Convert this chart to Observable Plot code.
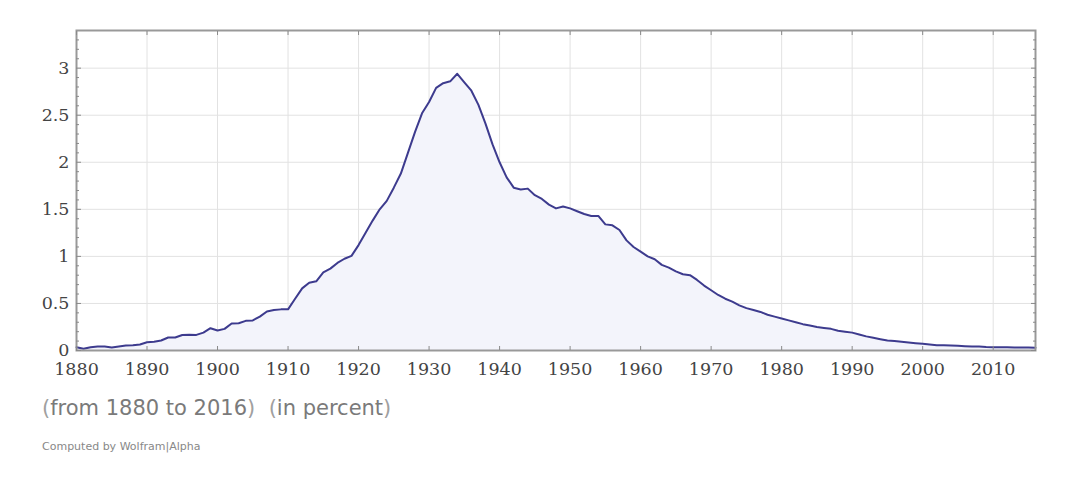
<!DOCTYPE html>
<html><head><meta charset="utf-8">
<script src="https://cdn.jsdelivr.net/npm/d3@7"></script>
<script src="https://cdn.jsdelivr.net/npm/@observablehq/plot@0.6"></script>
<style>
body{margin:0;background:#fff;}
#sub{font-family:"DejaVu Sans";font-size:21px;color:#7a7a7a;margin:6px 0 0 42px;line-height:24px;white-space:pre;}
#sub .p{color:#a0a0a0}
#credit{font-family:"DejaVu Sans";font-size:11px;color:#888;margin:20px 0 0 42px;line-height:13px;}
</style></head><body>
<div id="chart"></div>
<div id="sub"><span class="p">(</span>from 1880 to 2016<span class="p">)</span>  <span class="p">(</span>in percent<span class="p">)</span></div>
<div id="credit">Computed by Wolfram|Alpha</div>
<script>
const firstYear = 1880;
const values = [
  0.035, 0.018, 0.035, 0.042, 0.042, 0.033, 0.042, 0.052, 0.057, 0.064, // 1880s
  0.088, 0.092, 0.106, 0.138, 0.138, 0.165, 0.167, 0.166, 0.19, 0.237,  // 1890s
  0.212, 0.23, 0.287, 0.29, 0.315, 0.32, 0.36, 0.415, 0.43, 0.437,      // 1900s
  0.437, 0.55, 0.66, 0.72, 0.735, 0.83, 0.87, 0.93, 0.975, 1.005,       // 1910s
  1.12, 1.25, 1.38, 1.50, 1.59, 1.73, 1.88, 2.10, 2.32, 2.52,           // 1920s
  2.64, 2.79, 2.84, 2.86, 2.94, 2.85, 2.76, 2.61, 2.41, 2.19,           // 1930s
  2.00, 1.84, 1.73, 1.71, 1.72, 1.65, 1.61, 1.55, 1.51, 1.53,           // 1940s
  1.51, 1.48, 1.45, 1.43, 1.43, 1.34, 1.33, 1.28, 1.17, 1.10,           // 1950s
  1.05, 1.00, 0.97, 0.91, 0.88, 0.84, 0.81, 0.80, 0.75, 0.69,           // 1960s
  0.64, 0.59, 0.55, 0.52, 0.48, 0.45, 0.43, 0.41, 0.38, 0.36,           // 1970s
  0.34, 0.32, 0.30, 0.28, 0.265, 0.25, 0.24, 0.23, 0.21, 0.20,          // 1980s
  0.19, 0.17, 0.15, 0.135, 0.12, 0.106, 0.10, 0.093, 0.085, 0.078,      // 1990s
  0.071, 0.064, 0.057, 0.057, 0.053, 0.05, 0.046, 0.042, 0.042, 0.036,  // 2000s
  0.035, 0.035, 0.035, 0.033, 0.033, 0.033, 0.03                        // 2010-2016
];
const xTicks = [1880, 1890, 1900, 1910, 1920, 1930, 1940, 1950, 1960, 1970, 1980, 1990, 2000, 2010];
const yTicks = [0, 0.5, 1, 1.5, 2, 2.5, 3];
const yMinor = [0.1, 0.2, 0.3, 0.4, 0.6, 0.7, 0.8, 0.9, 1.1, 1.2, 1.3, 1.4, 1.6, 1.7, 1.8, 1.9,
                2.1, 2.2, 2.3, 2.4, 2.6, 2.7, 2.8, 2.9, 3.1, 3.2, 3.3];

const data = values.map((v, i) => ({year: firstYear + i, value: v}));
const empty = () => "";
const tickStyle = {stroke: "#8a8a8a", label: null, tickFormat: empty};

const chart = Plot.plot({
  width: 1084, height: 390,
  marginLeft: 76, marginRight: 49, marginTop: 30, marginBottom: 40,
  style: {fontFamily: "DejaVu Serif", fontSize: "17.5px", color: "#444", background: "#fff", overflow: "visible"},
  x: {domain: [1880, 2016]},
  y: {domain: [0, 3.4]},
  marks: [
    Plot.gridX(xTicks, {stroke: "#e2e2e2", strokeOpacity: 1}),
    Plot.gridY(yTicks, {stroke: "#e2e2e2", strokeOpacity: 1}),
    Plot.areaY(data, {x: "year", y: "value", fill: "#f3f4fb"}),
    Plot.lineY(data, {x: "year", y: "value", stroke: "#3d3b8e", strokeWidth: 2}),
    Plot.frame({stroke: "#999", strokeWidth: 2}),
    Plot.axisY(yMinor, {anchor: "left", tickSize: -3, ...tickStyle}),
    Plot.axisY(yTicks, {anchor: "left", tickSize: -5, ...tickStyle}),
    Plot.axisY(yMinor, {anchor: "right", tickSize: -3, ...tickStyle}),
    Plot.axisY(yTicks, {anchor: "right", tickSize: -5, ...tickStyle}),
    Plot.axisX(xTicks, {anchor: "bottom", tickSize: -4, ...tickStyle}),
    Plot.axisX(xTicks, {anchor: "top", tickSize: -4, ...tickStyle}),
    Plot.axisY(yTicks, {anchor: "left", tickSize: 0, tickPadding: 7, tickFormat: d => String(d), label: null}),
    Plot.axisX(xTicks, {anchor: "bottom", tickSize: 0, tickPadding: 12, tickFormat: d => String(d), label: null})
  ]
});
document.getElementById("chart").appendChild(chart);
</script>
</body></html>
